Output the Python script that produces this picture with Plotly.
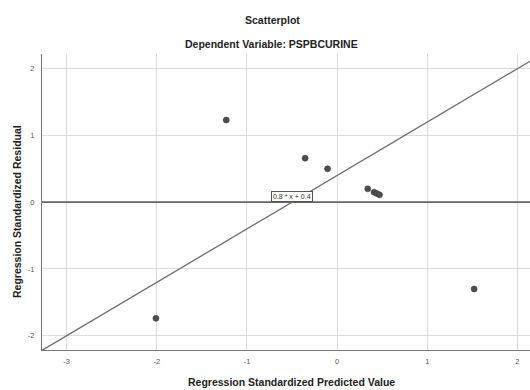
import plotly.graph_objects as go

title_main = "Scatterplot"
title_sub = "Dependent Variable: PSPBCURINE"
x_title = "Regression Standardized Predicted Value"
y_title = "Regression Standardized Residual"

pred = [-2.01, -1.23, -0.355, -0.106, 0.34, 0.41, 0.44, 0.47, 1.52]
resid = [-1.74, 1.23, 0.66, 0.50, 0.20, 0.15, 0.13, 0.11, -1.30]

fit_slope = 0.8
fit_intercept = 0.4
fit_label = "0.8 * x + 0.4"

x_ticks = [-3, -2, -1, 0, 1, 2]
y_ticks = [-2, -1, 0, 1, 2]
x_range = [-3.274, 2.14]
y_range = [-2.214, 2.22]

FONT = "Liberation Sans Narrow, Liberation Sans, Arial, sans-serif"

W, H = 530, 390
ML, MR, MT, MB = 42, 0, 54, 40

fig = go.Figure()

# reference line at y = 0
fig.add_trace(go.Scatter(
    x=x_range, y=[0, 0], mode="lines",
    line=dict(color="#666666", width=1.7), hoverinfo="skip", showlegend=False))

# fit line
fx = x_range
fy = [fit_slope * v + fit_intercept for v in fx]
fig.add_trace(go.Scatter(
    x=fx, y=fy, mode="lines",
    line=dict(color="#6e6e6e", width=1.3), hoverinfo="skip", showlegend=False))

# points
fig.add_trace(go.Scatter(
    x=pred, y=resid, mode="markers",
    marker=dict(color="#4f4f4f", size=6, line=dict(color="#3a3a3a", width=0.6)),
    showlegend=False))

# paper coords helpers (pixel -> paper)
pw, ph = W - ML - MR, H - MT - MB
def px(xp):
    return (xp - ML) / pw
def py(yp):
    return (H - MB - yp) / ph

annotations = [
    dict(x=(0 - fit_intercept) / fit_slope, y=0, xref="x", yref="y",
         text=fit_label, showarrow=False, yanchor="bottom",
         font=dict(family=FONT, size=7, color="#333"),
         bgcolor="white", bordercolor="#555", borderwidth=1, borderpad=1),
    dict(text="<b>" + title_main + "</b>", xref="paper", yref="paper",
         x=px(272), y=py(20), xanchor="center", yanchor="middle", showarrow=False,
         font=dict(family=FONT, size=10.5, color="#222")),
    dict(text="<b>" + title_sub + "</b>", xref="paper", yref="paper",
         x=px(271), y=py(44), xanchor="center", yanchor="middle", showarrow=False,
         font=dict(family=FONT, size=10.5, color="#222")),
    dict(text="<b>" + x_title + "</b>", xref="paper", yref="paper",
         x=px(291), y=py(382), xanchor="center", yanchor="middle", showarrow=False,
         font=dict(family=FONT, size=10.5, color="#222")),
    dict(text="<b>" + y_title + "</b>", xref="paper", yref="paper",
         x=px(17), y=py(212), xanchor="center", yanchor="middle", showarrow=False,
         textangle=-90, font=dict(family=FONT, size=10.5, color="#222")),
]

fig.update_layout(
    width=W, height=H,
    margin=dict(l=ML, r=MR, t=MT, b=MB, autoexpand=False),
    paper_bgcolor="white", plot_bgcolor="white",
    font=dict(family=FONT, color="#333"),
    annotations=annotations,
)

fig.update_xaxes(
    range=x_range, tickvals=x_ticks, ticktext=[str(v) for v in x_ticks],
    showgrid=True, gridcolor="#dcdcdc", gridwidth=1, zeroline=False,
    showline=True, linecolor="#7a7a7a", linewidth=1.2, mirror=False,
    tickfont=dict(size=7.5, color="#555", family=FONT), ticks="", ticklabelstandoff=4,
    automargin=False)

fig.update_yaxes(
    range=y_range, tickvals=y_ticks, ticktext=[str(v) for v in y_ticks],
    showgrid=True, gridcolor="#dcdcdc", gridwidth=1, zeroline=False,
    showline=True, linecolor="#7a7a7a", linewidth=1.2, mirror=False,
    tickfont=dict(size=7.5, color="#555", family=FONT), ticks="", ticklabelstandoff=5,
    automargin=False)

fig.write_html("out.html", config={"displayModeBar": False},
               post_script="document.body.style.margin='0';document.body.style.padding='0';")
